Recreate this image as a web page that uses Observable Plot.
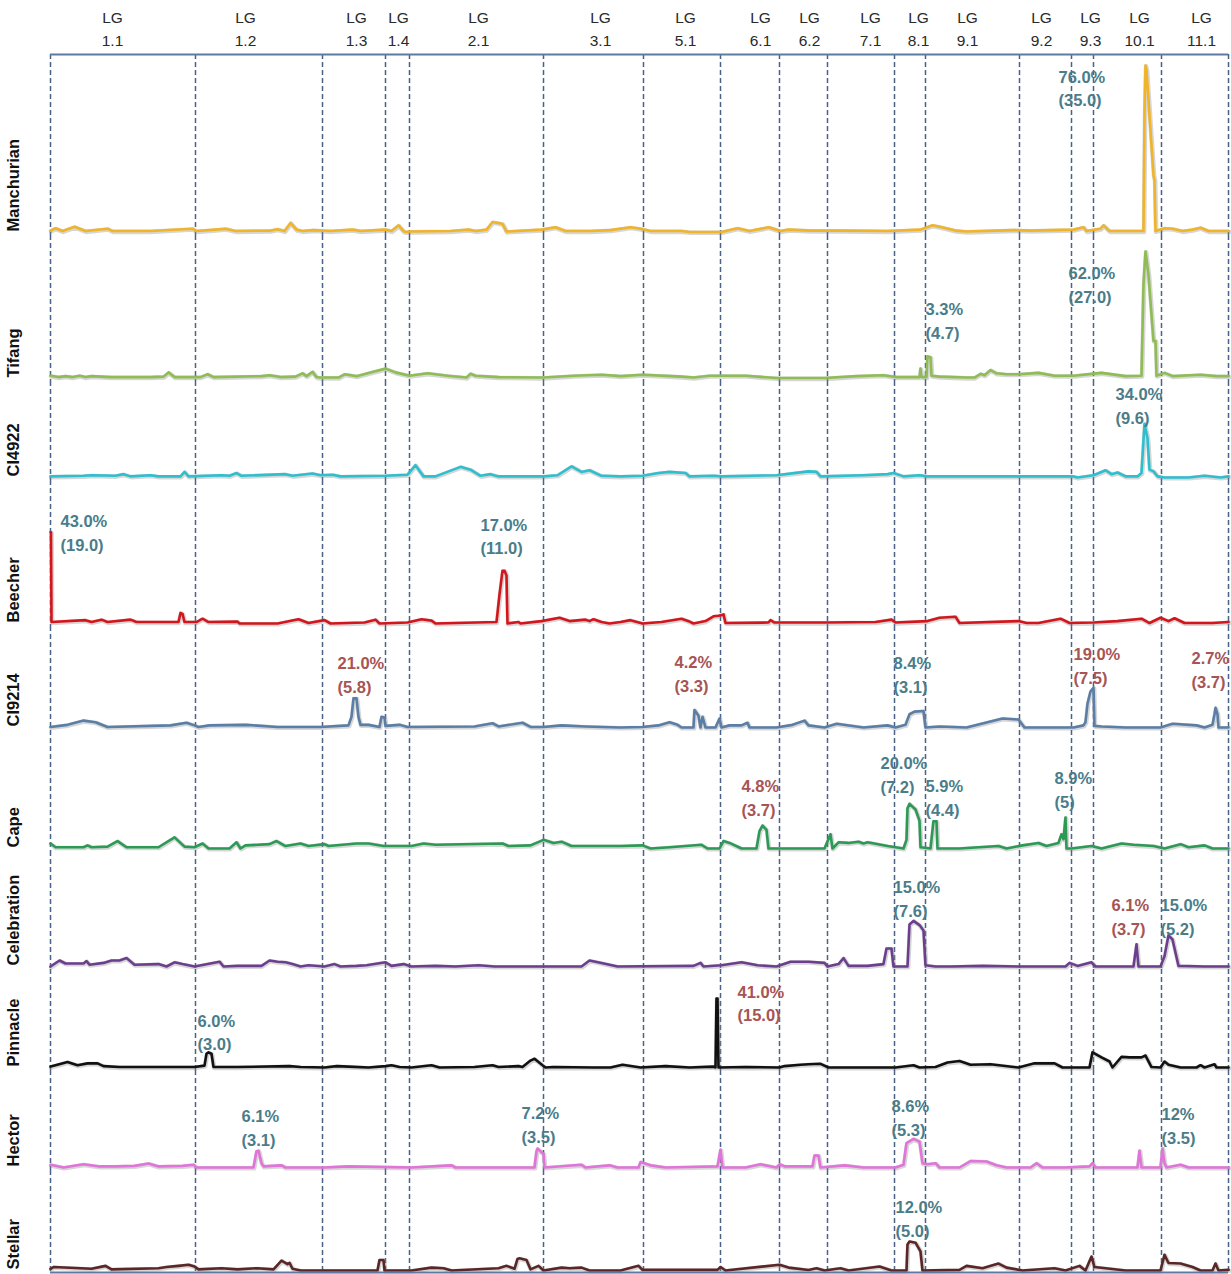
<!DOCTYPE html>
<html><head><meta charset="utf-8">
<script src="https://cdn.jsdelivr.net/npm/d3@7"></script>
<script src="https://cdn.jsdelivr.net/npm/@observablehq/plot@0.6"></script>
<style>body{margin:0;background:#fff}#chart svg{display:block}</style>
</head><body><div id="chart"></div>
<script>
// Linkage groups: names, cumulative boundaries (position units), label positions
const lgNames = ["1.1","1.2","1.3","1.4","2.1","3.1","5.1","6.1","6.2","7.1","8.1","9.1","9.2","9.3","10.1","11.1"];
const lgBounds = [0,145,272,335,359,493,593,670,729,777,844,875,969,1021,1043,1111,1178];
const lgLabelPos = [62,195,306,348,428,550,635,710,759,820,868,917,991,1040,1089,1151];

const cultivars = ["Manchurian","Tifang","CI4922","Beecher","CI9214","Cape","Celebration","Pinnacle","Hector","Stellar"];

// LOD profiles: [position, LOD]
const manchurian = [[0,0.4],[5,0.9],[12,0.3],[24,1.2],[35,0.3],[57,0.8],[62,0.3],[100,0.3],[142,0.8],[146,0.3],[165,0.6],[175,0.8],[185,0.3],[220,0.4],[227,0.7],[234,0.3],[240,2.0],[246,0.6],[252,0.3],[262,0.5],[280,0.3],[302,0.6],[310,0.3],[335,0.6],[341,0.3],[348,1.5],[353,0.3],[355,0.1],[360,0.2],[400,0.3],[418,0.6],[425,0.3],[436,0.6],[442,2.2],[448,2.0],[452,1.8],[456,0.2],[491,0.6],[505,1.1],[515,0.3],[540,0.3],[560,0.5],[580,1.1],[590,0.8],[600,0.3],[631,0.3],[639,0.1],[671,0.1],[687,0.9],[699,0.3],[718,1.1],[730,0.3],[738,0.6],[760,0.4],[790,0.4],[837,0.3],[870,0.6],[882,1.5],[889,1.2],[905,0.4],[916,0.2],[964,0.5],[980,0.4],[1023,0.6],[1033,1.1],[1036,0.3],[1050,0.8],[1053,1.5],[1059,0.3],[1091,0.3],[1093,0.3],[1094,25],[1095,35],[1096,34],[1103,12],[1104,11],[1105,0.3],[1114,0.9],[1122,0.8],[1132,0.3],[1142,0.6],[1150,1.0],[1158,0.3],[1178,0.3]];
const tifang = [[0,0.6],[8,0.3],[15,0.5],[22,0.3],[29,0.6],[35,0.3],[41,0.5],[60,0.3],[100,0.3],[113,0.4],[118,1.3],[124,0.3],[150,0.3],[157,0.9],[163,0.3],[211,0.5],[219,0.7],[230,0.3],[245,0.4],[252,1.1],[256,0.5],[262,1.4],[266,0.3],[269,0.2],[288,0.2],[294,0.9],[306,0.5],[320,1.3],[335,2.1],[345,1.3],[359,0.6],[377,1.1],[397,0.6],[416,0.2],[420,1.0],[425,0.6],[448,0.3],[493,0.2],[523,0.6],[551,0.8],[570,0.5],[592,0.8],[631,0.4],[643,0.2],[659,0.6],[695,0.6],[726,0.1],[774,0.1],[806,0.5],[833,0.7],[845,0.3],[869,0.3],[870,2.1],[871,0.3],[876,0.3],[877,4.7],[880,4.5],[881,0.6],[889,0.4],[916,0.2],[924,0.2],[930,1.0],[934,0.7],[940,1.8],[946,1.1],[956,0.9],[968,0.9],[988,1.2],[1004,0.6],[1023,0.6],[1051,1.2],[1075,0.5],[1091,0.6],[1093,20],[1095,27],[1098,22],[1103,8],[1105,8],[1106,0.6],[1114,1.2],[1122,0.5],[1150,0.8],[1166,0.5],[1178,0.5]];
const ci4922 = [[0,0.2],[33,0.3],[41,0.4],[65,0.3],[73,0.6],[80,0.2],[100,0.4],[108,0.2],[130,0.2],[134,1.0],[138,0.2],[171,0.4],[179,0.3],[186,0.8],[191,0.3],[235,0.6],[242,0.3],[262,0.7],[270,0.4],[282,0.5],[290,0.2],[335,0.3],[357,0.5],[365,2.2],[373,0.2],[385,0.2],[410,1.9],[420,1.4],[430,0.3],[440,0.6],[448,0.2],[493,0.2],[507,0.4],[521,2.0],[531,1.0],[539,1.3],[551,0.3],[570,0.2],[592,0.3],[608,0.8],[619,1.0],[635,0.8],[639,0.2],[663,0.3],[671,0.2],[726,0.4],[758,1.1],[766,1.0],[770,0.2],[813,0.4],[837,0.6],[843,0.8],[853,0.2],[869,0.4],[877,0.2],[1023,0.2],[1027,0],[1043,0.4],[1055,1.3],[1061,0.6],[1067,0.9],[1075,0.2],[1087,0.2],[1091,0.8],[1094,9.6],[1097,7],[1099,1.4],[1103,1.1],[1107,0.2],[1114,0],[1138,0],[1154,0.3],[1170,0],[1178,0.2]];
const beecher = [[0,19],[0.5,19],[1,0.3],[35,0.7],[41,0.3],[51,0.8],[57,0.3],[80,0.8],[86,0.3],[128,0.3],[130,2.2],[132,2.0],[134,0.3],[146,0.3],[152,1.0],[158,0.3],[187,0.4],[189,0],[227,0],[248,0.9],[258,0.1],[274,0.7],[280,0],[314,0.2],[325,0.8],[329,0],[357,0.2],[371,0.9],[381,0.6],[385,0],[446,0.3],[449,6],[452,11],[454,11],[456,10],[457,0],[468,0.3],[470,0],[491,0.5],[509,1.2],[519,0.5],[535,0.8],[539,0.5],[543,0.9],[551,0.3],[559,0],[570,0.3],[580,0.7],[592,0],[611,0.3],[631,1.0],[639,0.4],[643,0],[655,0.5],[663,1.5],[668,1.6],[673,1.9],[675,0.1],[718,0.2],[720,0.7],[724,0.2],[774,0.2],[825,0.3],[841,0.8],[845,0.2],[877,0.5],[889,1.2],[905,1.4],[909,0.1],[968,0.5],[976,0.1],[988,0.1],[1010,1.0],[1019,0.1],[1043,0.2],[1067,0.5],[1091,1.0],[1099,0.1],[1110,1.2],[1118,0.5],[1124,1.1],[1134,0.1],[1162,0.1],[1178,0.3]];
const ci9214 = [[0,0.1],[17,0.5],[33,1.3],[45,1.0],[57,0.1],[120,0.4],[136,0.9],[144,0.4],[148,0.1],[159,0.4],[195,0.5],[227,0.1],[270,0.1],[298,0.4],[301,2],[303,5.5],[306,5.5],[308,2],[310,0.5],[318,0.5],[329,0.1],[331,2.0],[334,1.9],[335,0.3],[349,0.5],[357,0.1],[424,0.2],[442,0.8],[448,0.2],[472,0.9],[480,0.1],[493,0.1],[511,0.4],[535,0.2],[570,0],[592,0.1],[608,0.4],[619,1.0],[627,0.5],[631,0],[643,0],[644,3.3],[648,2.2],[650,0],[652,2.0],[655,0],[665,0],[669,1.7],[671,0],[679,0.4],[691,0.4],[697,0.9],[699,0],[726,0],[742,0.5],[754,1.3],[758,0.4],[774,0],[786,0.7],[813,0],[837,0.4],[845,0],[855,0.5],[859,2.5],[864,3.0],[873,3.1],[875,0],[889,0.2],[916,0],[952,1.7],[968,1.5],[974,0],[1023,0],[1033,0.4],[1035,1.0],[1037,4.5],[1040,6.8],[1043,7.5],[1044,0.3],[1051,0.2],[1075,0],[1110,0],[1122,0.7],[1146,0.4],[1154,0],[1162,0.5],[1164,2.5],[1165,3.7],[1167,2.5],[1168,0],[1178,0]];
const cape = [[0,0.8],[5,0.2],[33,0.2],[37,0.5],[41,0.2],[57,0.3],[67,1.2],[76,0.2],[108,0.2],[124,1.8],[134,0.3],[144,0.2],[152,0.8],[158,0],[179,0],[186,1.0],[190,0],[195,0.5],[219,0.7],[226,1.2],[235,0.4],[250,0.8],[258,0.4],[274,0.7],[278,0.4],[306,0.8],[318,0.8],[333,0.4],[361,0.4],[373,0.8],[385,0.6],[452,0.8],[458,0.4],[480,0.5],[493,1.4],[503,0.9],[511,1.1],[521,0.4],[570,0.4],[592,0.5],[600,0],[619,0.2],[651,0.6],[657,0],[669,0],[673,1.2],[679,0.9],[691,0],[706,0],[709,2.8],[712,3.7],[716,3.0],[718,0],[726,0],[774,0],[780,2.3],[782,0],[788,1.0],[798,0.9],[808,1.1],[813,0.8],[817,1.0],[837,0.4],[853,0],[856,1.4],[857,6.5],[859,7.2],[865,6.3],[869,4.5],[870,0.2],[880,0],[883,4.4],[886,4.4],[887,0],[909,0],[948,0.4],[956,0],[972,0.5],[988,0.9],[996,0.4],[1008,0.9],[1011,2.3],[1013,1.5],[1015,5],[1016,0],[1021,0],[1041,0.4],[1051,0],[1071,0.8],[1083,0.6],[1103,0.4],[1114,0],[1130,0.7],[1138,0.2],[1154,0.5],[1162,0],[1178,0]];
const celebration = [[0,0],[9,1.0],[15,0.5],[33,0.5],[36,0.9],[39,0.3],[53,0.6],[61,1.0],[69,1.0],[76,1.4],[84,0.3],[108,0.4],[116,0],[124,0.7],[132,0.4],[144,0],[169,0.8],[173,0],[187,0.1],[211,0.1],[219,1.0],[227,0.8],[235,0.7],[242,0.4],[250,0],[258,0.2],[274,0],[284,0.4],[290,0],[306,0.1],[316,0.2],[335,0.7],[341,0.1],[353,0.4],[361,0],[385,0.1],[405,0],[428,0.2],[444,0],[531,0],[539,1.0],[551,0.6],[567,0],[643,0.1],[650,0.6],[653,0],[671,0.2],[691,0.7],[707,0.2],[726,0],[740,0.8],[758,0.8],[774,0.6],[777,0],[788,0.4],[793,1.4],[798,0.1],[817,0.1],[833,0.4],[836,3.0],[841,3.0],[843,0],[857,0],[859,7.0],[863,7.6],[869,6.9],[873,6.0],[875,0.2],[885,0],[901,0],[932,0.1],[968,0],[1015,0],[1019,0.6],[1027,0.1],[1041,0.7],[1045,0],[1083,0],[1086,3.7],[1088,0],[1110,0],[1114,1.7],[1118,5.2],[1122,4.5],[1128,0.1],[1154,0],[1178,0]];
const pinnacle = [[0,0.2],[5,0.5],[17,1.2],[27,0.5],[37,0.9],[47,0.9],[53,0.3],[69,0.1],[144,0.1],[154,0.4],[156,3.0],[158,3.3],[161,3.0],[163,0.1],[187,0.1],[239,0.3],[250,0.1],[274,0],[286,0.3],[298,0.2],[318,0],[335,0.3],[341,0.5],[349,0.1],[361,0],[381,0.5],[389,0],[424,0.1],[442,0.5],[448,0.1],[468,0.3],[472,0.1],[480,1.5],[484,1.9],[492,0.5],[495,0],[503,0.1],[543,0],[560,0],[572,0.6],[590,0],[615,0.3],[639,0],[663,0.2],[665,0],[666,15],[667,15],[668,0],[695,0.1],[729,0],[734,0.3],[750,0.6],[758,0.7],[770,0.8],[778,0],[798,0],[845,0],[863,0.5],[869,0],[885,0.1],[897,1.1],[909,1.4],[920,0.6],[940,0.7],[968,0],[984,0.9],[1004,0.9],[1012,0],[1039,0],[1042,3.3],[1051,2.2],[1059,1.3],[1062,0],[1071,2.3],[1079,2.2],[1091,2.2],[1095,2.6],[1101,0.1],[1110,0],[1114,1.3],[1118,0.6],[1130,0],[1146,0],[1150,0.5],[1154,0],[1164,0.7],[1166,0],[1178,0]];
const hector = [[0,0.5],[13,0],[33,0.6],[49,0.2],[65,0.2],[84,0.3],[98,0.75],[108,0.2],[132,0.3],[143,0.5],[146,0],[203,0],[206,3.0],[208,3.1],[211,0.8],[213,0.2],[231,0.4],[235,0],[274,0],[298,0.2],[361,0],[401,0.4],[405,0],[484,0],[486,3.0],[487,3.5],[493,2.5],[494,0],[531,0.5],[535,0],[559,0.4],[567,0],[588,0],[590,1.0],[600,0.4],[615,0],[639,0.1],[667,0.2],[670,3.3],[672,0],[695,0],[710,0.6],[726,0],[729,0.6],[734,0.2],[762,0.2],[764,2.2],[768,2.2],[770,0],[794,0.4],[813,0],[845,0],[853,0.5],[856,4.5],[863,5.3],[869,4.8],[872,0.8],[877,0.6],[885,0.8],[889,0],[909,0],[920,1.2],[936,1.1],[946,0.4],[956,0],[980,0],[986,0.8],[992,0],[1015,0],[1039,0.2],[1042,0.8],[1045,0],[1087,0],[1089,3.1],[1091,0],[1110,0],[1112,3.5],[1114,0.8],[1116,0],[1130,0.5],[1138,0],[1178,0]];
const stellar = [[0,0.3],[3,0.6],[41,0.3],[55,0.8],[61,0.2],[108,0.4],[116,0.6],[128,0.8],[138,1.0],[144,0.7],[148,0.2],[171,0.4],[187,0.2],[207,0.4],[223,0.2],[231,1.7],[237,1.1],[239,1.3],[242,0.3],[250,0],[274,0],[327,0],[329,1.8],[333,1.8],[334,0],[361,0],[381,0.5],[393,0.4],[401,0],[448,0.4],[456,0.8],[464,0.3],[467,2.0],[469,2.1],[476,1.8],[480,0.2],[488,0.8],[493,0],[511,0.5],[519,0.4],[531,0.5],[539,0],[570,0],[588,0.8],[592,0.1],[667,0.1],[670,0.6],[675,0],[729,1.0],[738,0.5],[758,0.1],[766,0.4],[774,0],[790,0.4],[798,0],[829,0.7],[841,0],[856,0],[857,4.5],[859,5.0],[865,4.8],[870,3.3],[872,0],[909,0.1],[916,0.8],[932,0.4],[948,1.2],[956,0.5],[972,0],[1004,0.4],[1015,0],[1029,0.8],[1035,0],[1041,2.4],[1044,0.6],[1075,0],[1110,0],[1114,2.7],[1118,1.3],[1130,1.2],[1142,0.6],[1150,0],[1162,0],[1165,1.2],[1168,0],[1178,0.1]];

// QTL annotations: [cultivar, position, label height (LOD), text, type]
const notes = [
  ["Manchurian",1008,35.0,"76.0%\n(35.0)","a"],
  ["Tifang",875,17.2,"3.3%\n(4.7)","a"],
  ["Tifang",1018,24.7,"62.0%\n(27.0)","a"],
  ["CI4922",1065,16.8,"34.0%\n(9.6)","a"],
  ["Beecher",10,23.7,"43.0%\n(19.0)","a"],
  ["Beecher",430,22.9,"17.0%\n(11.0)","a"],
  ["CI9214",287,14.3,"21.0%\n(5.8)","b"],
  ["CI9214",624,14.5,"4.2%\n(3.3)","b"],
  ["CI9214",843,14.3,"8.4%\n(3.1)","a"],
  ["CI9214",1023,16.0,"19.0%\n(7.5)","b"],
  ["CI9214",1141,15.1,"2.7%\n(3.7)","b"],
  ["Cape",691,11.8,"4.8%\n(3.7)","b"],
  ["Cape",830,15.5,"20.0%\n(7.2)","a"],
  ["Cape",875,11.8,"5.9%\n(4.4)","a"],
  ["Cape",1004,13.1,"8.9%\n(5)","a"],
  ["Celebration",843,15.0,"15.0%\n(7.6)","a"],
  ["Celebration",1061,12.0,"6.1%\n(3.7)","b"],
  ["Celebration",1110,12.0,"15.0%\n(5.2)","a"],
  ["Pinnacle",147,12.6,"6.0%\n(3.0)","a"],
  ["Pinnacle",687,18.9,"41.0%\n(15.0)","b"],
  ["Hector",191,11.5,"6.1%\n(3.1)","a"],
  ["Hector",471,12.2,"7.2%\n(3.5)","a"],
  ["Hector",841,13.5,"8.6%\n(5.3)","a"],
  ["Hector",1111,11.9,"12%\n(3.5)","a"],
  ["Stellar",845,12.9,"12.0%\n(5.0)","a"]
];

const series = [manchurian, tifang, ci4922, beecher, ci9214, cape, celebration, pinnacle, hector, stellar];

// layout / style per panel
const colors = ["#f0b428","#8fbc55","#2ebfcf","#d4161c","#5a7ea6","#2a9a55","#6b3f8e","#111111","#e074d8","#5a2626"];
const heights = [235,146,99,146,104,121,118,101,100,104];
const pxPerLod = [4.77,4.7,5.6,4.8,5.3,6.2,6.0,4.6,5.4,5.8];
const noteFill = {a: "#4a7c89", b: "#a65454"};
const HEADER = 54;

const root = document.getElementById("chart");
cultivars.forEach((name, i) => {
  const h = heights[i], k = pxPerLod[i];
  const mt = i === 0 ? HEADER : 0;
  const base = i === cultivars.length - 1 ? 4 : 3;
  const lo = -base / k, hi = (h - mt - base) / k;
  const rows = series[i].map(([pos, lod]) => ({pos, lod}));
  const ann = notes.filter(n => n[0] === name).map(n => ({pos: n[1], y: n[2], text: n[3], type: n[4]}));
  const marks = [
    Plot.ruleX(lgBounds, {stroke: "#4a6288", strokeWidth: 1.5, strokeDasharray: "5,3"}),
    Plot.line(rows, {x: "pos", y: "lod", stroke: "#8a8a8a", strokeOpacity: 0.35, strokeWidth: 4.6, dx: 0.6, dy: 0.8, strokeLinejoin: "round"}),
    Plot.line(rows, {x: "pos", y: "lod", stroke: colors[i], strokeWidth: 2.6, strokeLinejoin: "round"}),
    Plot.text(ann.filter(d => d.type === "a"), {x: "pos", y: "y", text: "text", fill: noteFill.a, textAnchor: "start", lineAnchor: "top", lineHeight: 1.45, fontSize: 16.5, fontWeight: "bold"}),
    Plot.text(ann.filter(d => d.type === "b"), {x: "pos", y: "y", text: "text", fill: noteFill.b, textAnchor: "start", lineAnchor: "top", lineHeight: 1.45, fontSize: 16.5, fontWeight: "bold"}),
    Plot.text([name], {frameAnchor: "bottom-left", text: d => d, rotate: -90, textAnchor: "start", dx: -32, dy: -(base + 1), fontSize: 16.5, fontWeight: "bold", fill: "#111"})
  ];
  if (i === 0) {
    marks.push(Plot.ruleY([hi], {stroke: "#5b7ba6", strokeWidth: 2}));
    marks.push(Plot.text(lgNames, {x: (d, j) => lgLabelPos[j], text: d => "LG\n" + d, frameAnchor: "top", dy: -47, lineAnchor: "top", lineHeight: 1.45, fontSize: 15.5, fill: "#2a2a2a"}));
  }
  if (i === cultivars.length - 1) {
    marks.push(Plot.ruleY([0], {stroke: "#5b7ba6", strokeWidth: 2, dy: 2}));
  }
  const svg = Plot.plot({
    width: 1231, height: h,
    marginLeft: 50, marginRight: 3, marginTop: mt, marginBottom: 0,
    x: {domain: [0, 1178], axis: null},
    y: {domain: [lo, hi], axis: null},
    style: {fontFamily: "'Liberation Sans', Arial, sans-serif", background: "white", overflow: "visible"},
    marks
  });
  root.appendChild(svg);
});
</script>
</body></html>
